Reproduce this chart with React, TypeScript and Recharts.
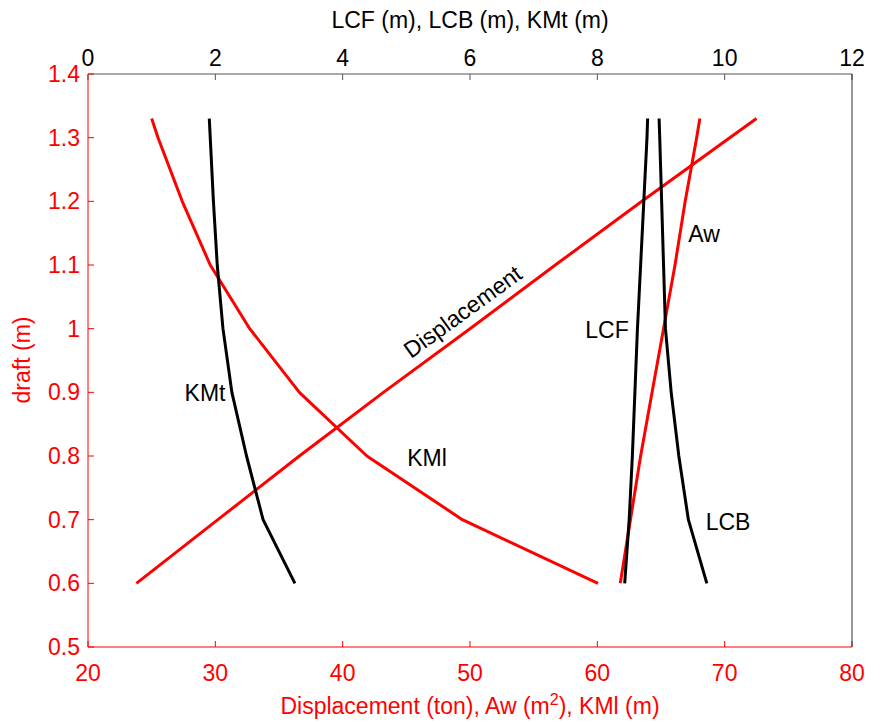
import React from 'react';
import { ScatterChart, Scatter, XAxis, YAxis } from 'recharts';

// draft (m) at each station
const drafts = [0.6, 0.7, 0.8, 0.9, 1.0, 1.1, 1.2, 1.3, 1.33];

// bottom axis series
const displacement = [23.8, 30.2, 36.6, 43.2, 50.0, 56.7, 63.5, 70.4, 72.5];
const aw = [61.8, 62.6, 63.4, 64.3, 65.2, 66.1, 66.9, 67.8, 68.05];
const kml = [60.05, 49.4, 41.9, 36.6, 32.7, 29.6, 27.4, 25.5, 25.0];

// top axis series
const kmt = [3.25, 2.75, 2.49, 2.26, 2.12, 2.03, 1.97, 1.92, 1.905];
const lcf = [8.43, 8.5, 8.55, 8.59, 8.63, 8.68, 8.73, 8.78, 8.79];
const lcb = [9.72, 9.43, 9.28, 9.16, 9.07, 9.04, 9.01, 8.98, 8.97];

const bottomTicks = [20, 30, 40, 50, 60, 70, 80];
const topTicks = [0, 2, 4, 6, 8, 10, 12];
const draftTicks = [0.5, 0.6, 0.7, 0.8, 0.9, 1, 1.1, 1.2, 1.3, 1.4];

const toPoints = (xs: number[]) => xs.map((x, i) => ({ x, y: drafts[i] }));

const RED = '#ff0000';
const FONT = '"Liberation Sans", Arial, sans-serif';
const FS = 23;

const noDot = () => <g />;

const lineStyle = (color: string) => ({
  stroke: color,
  strokeWidth: 3,
  strokeLinejoin: 'round' as const,
});

const tag = (x: number, y: number, color = '#000', rotate = 0): React.CSSProperties => ({
  position: 'absolute',
  left: x,
  top: y,
  transform: `translate(-50%, -50%) rotate(${rotate}deg)`,
  color,
  fontSize: FS,
  fontFamily: FONT,
  lineHeight: 1,
  whiteSpace: 'nowrap',
});

export default function App() {
  return (
    <div style={{ position: 'absolute', left: 0, top: 0, width: 895, height: 722, background: '#fff' }}>
      <ScatterChart
        width={895}
        height={722}
        margin={{ top: 34, right: 3, bottom: 35, left: 28 }}
        style={{ fontFamily: FONT }}
      >
        <XAxis
          xAxisId="bottom"
          orientation="bottom"
          type="number"
          dataKey="x"
          domain={[20, 80]}
          ticks={bottomTicks}
          height={40}
          tickSize={-6}
          tickMargin={24}
          axisLine={{ stroke: RED }}
          tickLine={{ stroke: RED }}
          tick={{ fill: RED, fontSize: FS }}
        />
        <XAxis
          xAxisId="top"
          orientation="top"
          type="number"
          dataKey="x"
          domain={[0, 12]}
          ticks={topTicks}
          height={40}
          tickSize={-6}
          tickMargin={14}
          axisLine={{ stroke: '#555' }}
          tickLine={{ stroke: '#555' }}
          tick={{ fill: '#000', fontSize: FS }}
        />
        <YAxis
          yAxisId="left"
          orientation="left"
          type="number"
          dataKey="y"
          domain={[0.5, 1.4]}
          ticks={draftTicks}
          width={60}
          tickSize={-6}
          tickMargin={14}
          axisLine={{ stroke: RED }}
          tickLine={{ stroke: RED }}
          tick={{ fill: RED, fontSize: FS }}
        />
        <YAxis
          yAxisId="right"
          orientation="right"
          type="number"
          dataKey="y"
          domain={[0.5, 1.4]}
          ticks={draftTicks}
          width={40}
          tickSize={-6}
          tickMargin={14}
          axisLine={{ stroke: '#333' }}
          tickLine={{ stroke: '#333' }}
          tick={{ fill: '#000', fontSize: FS }}
        />
        <Scatter name="Displacement" data={toPoints(displacement)} xAxisId="bottom" yAxisId="left"
          line={lineStyle(RED)} shape={noDot} fill={RED} isAnimationActive={false} />
        <Scatter name="Aw" data={toPoints(aw)} xAxisId="bottom" yAxisId="left"
          line={lineStyle(RED)} shape={noDot} fill={RED} isAnimationActive={false} />
        <Scatter name="KMl" data={toPoints(kml)} xAxisId="bottom" yAxisId="left"
          line={lineStyle(RED)} shape={noDot} fill={RED} isAnimationActive={false} />
        <Scatter name="KMt" data={toPoints(kmt)} xAxisId="top" yAxisId="left"
          line={lineStyle('#000')} shape={noDot} fill="#000" isAnimationActive={false} />
        <Scatter name="LCF" data={toPoints(lcf)} xAxisId="top" yAxisId="left"
          line={lineStyle('#000')} shape={noDot} fill="#000" isAnimationActive={false} />
        <Scatter name="LCB" data={toPoints(lcb)} xAxisId="top" yAxisId="left"
          line={lineStyle('#000')} shape={noDot} fill="#000" isAnimationActive={false} />
      </ScatterChart>

      <div style={tag(470, 20)}>LCF (m), LCB (m), KMt (m)</div>
      <div style={tag(470, 706, RED)}>
        Displacement (ton), Aw (m<sup style={{ fontSize: 16, verticalAlign: 'super', lineHeight: 0 }}>2</sup>), KMl (m)
      </div>
      <div style={tag(22, 360, RED, -90)}>draft (m)</div>

      <div style={tag(205, 393)}>KMt</div>
      <div style={tag(427, 458)}>KMl</div>
      <div style={tag(607, 330)}>LCF</div>
      <div style={tag(704, 234)}>Aw</div>
      <div style={tag(728, 522)}>LCB</div>
      <div style={tag(463, 312, '#000', -36)}>Displacement</div>
    </div>
  );
}
